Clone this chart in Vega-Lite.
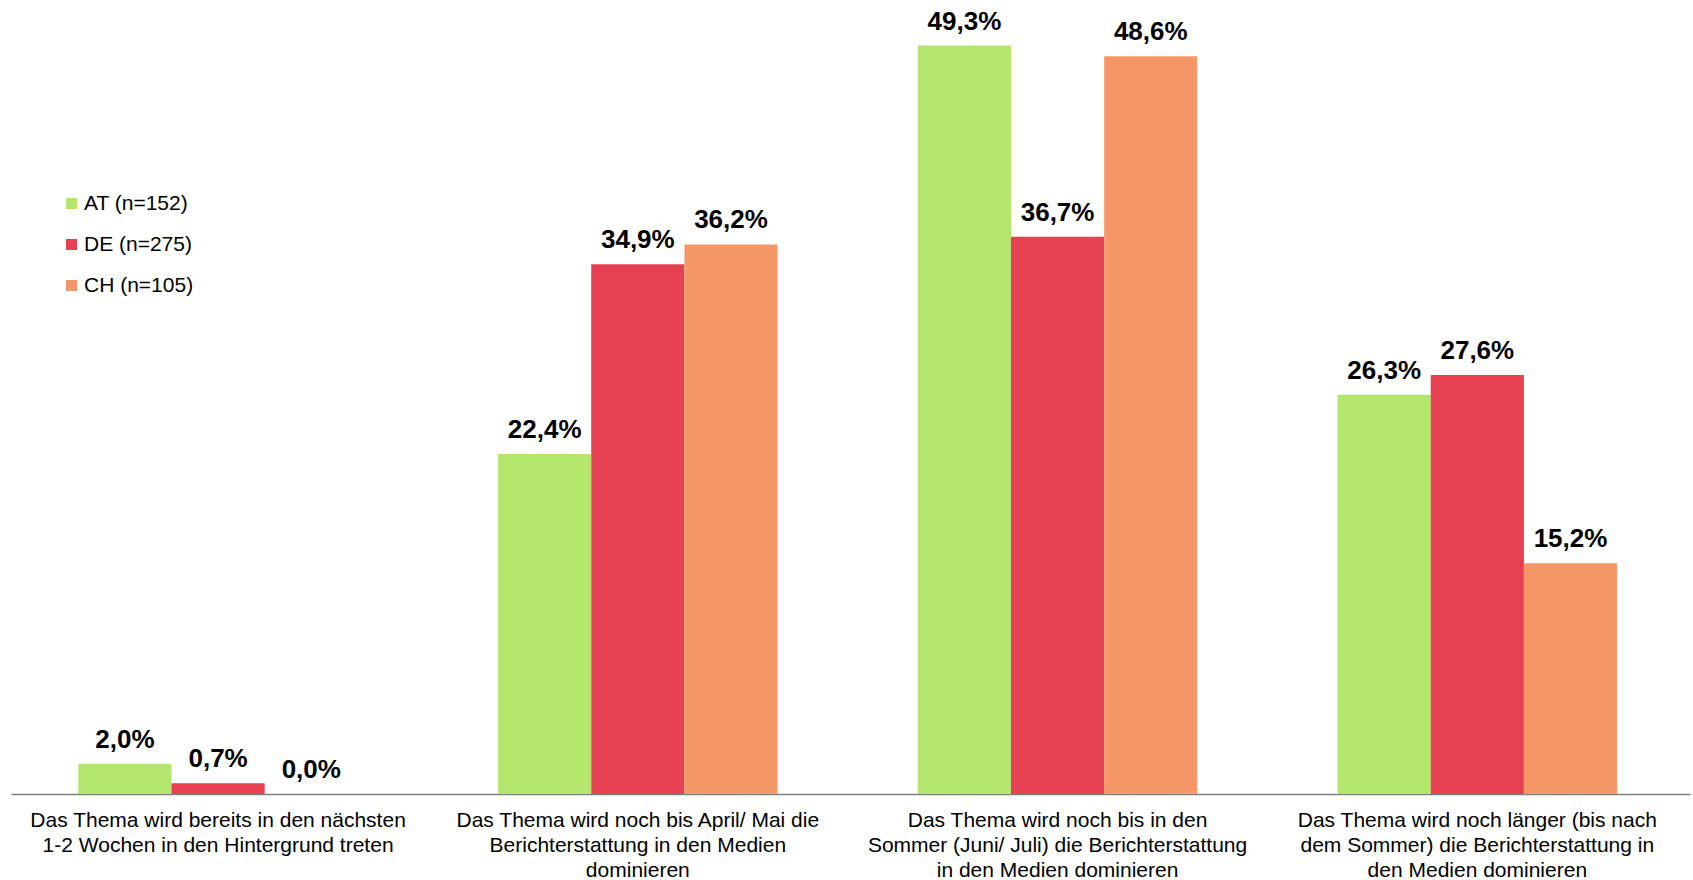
{
  "$schema": "https://vega.github.io/schema/vega-lite/v6.json",
  "width": 1679,
  "height": 794,
  "autosize": {"type": "none"},
  "padding": {"left": 11, "top": 0, "right": 3, "bottom": 86},
  "config": {
    "view": {"stroke": null},
    "font": "Liberation Sans",
    "locale": {"number": {"decimal": ",", "thousands": ".", "grouping": [3], "currency": ["", " €"]}}
  },
  "data": {
    "values": [
      {"cat": "Das Thema wird bereits in den nächsten|1-2 Wochen in den Hintergrund treten", "land": "AT (n=152)", "value": 0.020},
      {"cat": "Das Thema wird bereits in den nächsten|1-2 Wochen in den Hintergrund treten", "land": "DE (n=275)", "value": 0.007},
      {"cat": "Das Thema wird bereits in den nächsten|1-2 Wochen in den Hintergrund treten", "land": "CH (n=105)", "value": 0.000},
      {"cat": "Das Thema wird noch bis April/ Mai die|Berichterstattung in den Medien|dominieren", "land": "AT (n=152)", "value": 0.224},
      {"cat": "Das Thema wird noch bis April/ Mai die|Berichterstattung in den Medien|dominieren", "land": "DE (n=275)", "value": 0.349},
      {"cat": "Das Thema wird noch bis April/ Mai die|Berichterstattung in den Medien|dominieren", "land": "CH (n=105)", "value": 0.362},
      {"cat": "Das Thema wird noch bis in den|Sommer (Juni/ Juli) die Berichterstattung|in den Medien dominieren", "land": "AT (n=152)", "value": 0.493},
      {"cat": "Das Thema wird noch bis in den|Sommer (Juni/ Juli) die Berichterstattung|in den Medien dominieren", "land": "DE (n=275)", "value": 0.367},
      {"cat": "Das Thema wird noch bis in den|Sommer (Juni/ Juli) die Berichterstattung|in den Medien dominieren", "land": "CH (n=105)", "value": 0.486},
      {"cat": "Das Thema wird noch länger (bis nach|dem Sommer) die Berichterstattung in|den Medien dominieren", "land": "AT (n=152)", "value": 0.263},
      {"cat": "Das Thema wird noch länger (bis nach|dem Sommer) die Berichterstattung in|den Medien dominieren", "land": "DE (n=275)", "value": 0.276},
      {"cat": "Das Thema wird noch länger (bis nach|dem Sommer) die Berichterstattung in|den Medien dominieren", "land": "CH (n=105)", "value": 0.152}
    ]
  },
  "encoding": {
    "x": {
      "field": "cat", "type": "nominal", "sort": null, "title": null,
      "scale": {"paddingInner": 0.334, "paddingOuter": 0.167, "align": 0.48},
      "axis": {
        "labelAngle": 0,
        "labelExpr": "split(datum.label, '|')",
        "labelFontSize": 21,
        "labelLineHeight": 25,
        "labelColor": "#000000",
        "labelPadding": 15,
        "labelLimit": 0,
        "ticks": false,
        "domainColor": "#808080",
        "domainWidth": 1.5
      }
    },
    "xOffset": {"field": "land", "type": "nominal", "sort": ["AT (n=152)", "DE (n=275)", "CH (n=105)"], "scale": {"paddingInner": 0}},
    "y": {
      "field": "value", "type": "quantitative",
      "scale": {"domain": [0, 0.523]},
      "axis": null
    }
  },
  "layer": [
    {
      "mark": {"type": "bar"},
      "encoding": {
        "color": {
          "field": "land", "type": "nominal",
          "sort": ["AT (n=152)", "DE (n=275)", "CH (n=105)"],
          "scale": {"domain": ["AT (n=152)", "DE (n=275)", "CH (n=105)"], "range": ["#B3E66A", "#E64152", "#F59767"]},
          "legend": {
            "title": null,
            "orient": "none",
            "legendX": 50,
            "legendY": 193,
            "symbolType": "square",
            "symbolSize": 121,
            "symbolStrokeWidth": 0,
            "labelFontSize": 21,
            "labelColor": "#000000",
            "labelOffset": 2,
            "rowPadding": 19
          }
        }
      }
    },
    {
      "mark": {"type": "text", "baseline": "alphabetic", "dy": -16, "fontSize": 26, "fontWeight": "bold", "color": "#000000"},
      "encoding": {
        "text": {"field": "value", "type": "quantitative", "format": ".1%"}
      }
    }
  ]
}
